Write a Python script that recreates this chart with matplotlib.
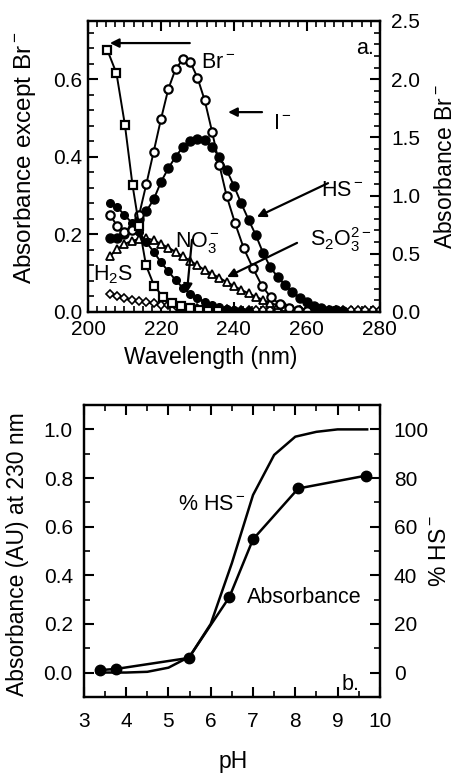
import matplotlib
matplotlib.use('Agg')
import matplotlib.pyplot as plt
from matplotlib.ticker import MultipleLocator, FormatStrFormatter

plt.rcParams.update({
    'font.family': ['Liberation Sans', 'DejaVu Sans'],
    'mathtext.fontset': 'custom',
    'mathtext.rm': 'Liberation Sans',
    'mathtext.it': 'Liberation Sans',
    'mathtext.default': 'regular',
    'axes.linewidth': 1.6,
})

# ---------------- Panel a data ----------------
br_x = [205.3, 207.8, 210.1, 212.2, 214.0, 215.9, 218.2, 220.6, 223.0, 225.5, 228.0, 230.5, 233.0, 235.5]
br_y = [2.25, 2.05, 1.61, 1.09, 0.74, 0.40, 0.22, 0.13, 0.08, 0.05, 0.03, 0.02, 0.01, 0.005]

i_x = [206, 208, 210, 212, 214, 216, 218, 220, 222, 224, 226, 228, 230, 232, 234, 236, 238,
       240.3, 242.7, 245.2, 247.7, 250.1, 252.6, 255, 257.5, 260]
i_y = [0.25, 0.222, 0.205, 0.21, 0.25, 0.33, 0.413, 0.497, 0.574, 0.626, 0.651, 0.645, 0.604,
       0.545, 0.465, 0.379, 0.299, 0.229, 0.164, 0.113, 0.067, 0.038, 0.02, 0.01, 0.005, 0.002]

hs_x = [206, 208, 210, 212, 214, 216, 218, 220, 222, 224, 226, 228, 230, 232, 234, 236, 238,
        240, 242, 244, 246, 248, 250, 252, 254, 256, 258, 260, 262, 264, 266, 268, 270]
hs_y = [0.19, 0.19, 0.20, 0.215, 0.24, 0.26, 0.29, 0.335, 0.37, 0.40, 0.425, 0.44, 0.445, 0.442,
        0.425, 0.40, 0.366, 0.325, 0.28, 0.238, 0.198, 0.152, 0.115, 0.09, 0.07, 0.052, 0.037,
        0.025, 0.016, 0.010, 0.006, 0.004, 0.002]

no3_x = [206, 208, 210, 212, 214, 216, 218, 220, 222, 224, 226, 228, 230, 232, 234, 236, 238,
         240, 242, 244]
no3_y = [0.282, 0.27, 0.25, 0.23, 0.205, 0.18, 0.155, 0.128, 0.105, 0.082, 0.062, 0.047, 0.035,
         0.026, 0.018, 0.012, 0.008, 0.005, 0.003, 0.002]

s2o3_x = [206, 208, 210, 212, 214, 216, 218, 220, 222, 224, 226, 228, 230, 232, 234, 236, 238,
          240, 242, 244, 246, 248, 250, 252, 254, 256, 258, 260, 262]
s2o3_y = [0.144, 0.162, 0.175, 0.183, 0.188, 0.19, 0.185, 0.175, 0.166, 0.155, 0.143, 0.132,
          0.12, 0.108, 0.098, 0.088, 0.077, 0.067, 0.057, 0.048, 0.039, 0.031, 0.023, 0.017,
          0.012, 0.008, 0.005, 0.003, 0.002]

h2s_x = [206, 208, 210, 212, 214, 216, 218, 220, 222, 224, 226, 228, 230, 232, 234, 236, 238,
         240, 242, 244, 246, 248, 250, 252, 254, 256, 258, 260, 262, 264, 266, 268, 270, 272,
         274, 276, 278, 280]
h2s_y = [0.045, 0.04, 0.035, 0.031, 0.028, 0.025, 0.022, 0.019, 0.017, 0.015, 0.013, 0.011,
         0.010, 0.009, 0.008, 0.007, 0.007, 0.006, 0.006, 0.006, 0.006, 0.006, 0.006, 0.005,
         0.005, 0.005, 0.005, 0.005, 0.005, 0.005, 0.005, 0.005, 0.005, 0.005, 0.005, 0.005,
         0.005, 0.005]

# ---------------- Panel b data ----------------
ph_abs = [3.38, 3.77, 5.48, 6.44, 7.0, 8.07, 9.68]
abs_230 = [0.01, 0.015, 0.06, 0.31, 0.548, 0.757, 0.81]

ph_hs = [3.3, 4.0, 4.5, 5.0, 5.5, 6.0, 6.5, 7.0, 7.5, 8.0, 8.5, 9.0, 9.7]
pct_hs = [0.0, 0.0, 0.3, 2.0, 6.5, 20.0, 45.0, 73.0, 89.5, 97.0, 99.0, 100.0, 100.0]

fig = plt.figure(figsize=(4.56, 7.76), dpi=100)

TICK_FS = 15
LAB_FS = 16.5

def style_ticks(a):
    a.tick_params(which='major', direction='in', length=7, width=1.5, labelsize=TICK_FS)
    a.tick_params(which='minor', direction='in', length=4, width=1.2)

# ---------- Panel a ----------
ax = fig.add_axes([0.193, 0.598, 0.640, 0.375])
ax2 = ax.twinx()

lw = 1.4
ax.plot(h2s_x, h2s_y, '-', color='k', lw=lw, marker='D', ms=4.5, mfc='white', mec='k', mew=1.2)
ax.plot(s2o3_x, s2o3_y, '-', color='k', lw=lw, marker='^', ms=5.5, mfc='white', mec='k', mew=1.3)
ax.plot(no3_x, no3_y, '-', color='k', lw=lw, marker='o', ms=5.5, mfc='k', mec='k')
ax.plot(hs_x, hs_y, '-', color='k', lw=lw, marker='o', ms=6.5, mfc='k', mec='k')
ax.plot(i_x, i_y, '-', color='k', lw=lw, marker='o', ms=6, mfc='white', mec='k', mew=1.6)
ax2.plot(br_x, br_y, '-', color='k', lw=lw, marker='s', ms=6, mfc='white', mec='k', mew=1.6)

ax.set_xlim(200, 280)
ax.set_ylim(0, 0.75)
ax2.set_ylim(0, 2.5)
ax.xaxis.set_major_locator(MultipleLocator(20))
ax.xaxis.set_minor_locator(MultipleLocator(2.5))
ax.yaxis.set_major_locator(MultipleLocator(0.2))
ax.yaxis.set_minor_locator(MultipleLocator(0.04))
ax.yaxis.set_major_formatter(FormatStrFormatter('%.1f'))
ax2.yaxis.set_major_locator(MultipleLocator(0.5))
ax2.yaxis.set_minor_locator(MultipleLocator(0.1))
ax2.yaxis.set_major_formatter(FormatStrFormatter('%.1f'))
style_ticks(ax)
style_ticks(ax2)
ax.tick_params(which='both', top=True)
ax.tick_params(axis='x', which='major', pad=6)
ax.tick_params(axis='y', which='major', pad=4)
ax2.tick_params(axis='y', which='major', pad=8)

ax.text(-0.215, 0.53, r'Absorbance except Br$^-$', transform=ax.transAxes, rotation=90,
        ha='center', va='center', fontsize=17.5)
ax.text(1.225, 0.50, r'Absorbance Br$^-$', transform=ax.transAxes, rotation=90,
        ha='center', va='center', fontsize=LAB_FS)
ax.text(0.42, -0.155, 'Wavelength (nm)', transform=ax.transAxes,
        ha='center', va='center', fontsize=LAB_FS)

TXT_FS = 15.5
ax.text(235.6, 0.644, r'Br$^-$', ha='center', va='center', fontsize=TXT_FS)
ax.text(253.2, 0.485, r'I$^-$', ha='center', va='center', fontsize=TXT_FS)
ax.text(269.6, 0.314, r'HS$^-$', ha='center', va='center', fontsize=TXT_FS)
ax.text(260.8, 0.186, r'S$_2$O$_3^{2-}$', ha='left', va='center', fontsize=TXT_FS)
ax.text(223.8, 0.18, r'NO$_3^-$', ha='left', va='center', fontsize=TXT_FS)
ax.text(201.4, 0.095, r'H$_2$S', ha='left', va='center', fontsize=TXT_FS)
ax.text(276.0, 0.68, 'a.', ha='center', va='center', fontsize=TXT_FS)

arrow_kw = dict(arrowstyle='-|>', color='k', lw=1.6, mutation_scale=13, shrinkA=0, shrinkB=0)
for (x0, y0, x1, y1) in [(227.9, 0.693, 206.0, 0.693),
                         (247.7, 0.515, 238.4, 0.515),
                         (265.8, 0.332, 246.3, 0.245),
                         (257.3, 0.178, 238.1, 0.09),
                         (228.5, 0.186, 227.1, 0.049)]:
    ax.annotate('', xy=(x1, y1), xytext=(x0, y0), arrowprops=arrow_kw)

# ---------- Panel b ----------
bx = fig.add_axes([0.184, 0.102, 0.649, 0.376])
bx2 = bx.twinx()
bx.plot(ph_abs, abs_230, '-', color='k', lw=1.8, marker='o', ms=7.5, mfc='k', mec='k')
bx2.plot(ph_hs, pct_hs, '-', color='k', lw=1.8)

bx.set_xlim(3, 10)
bx.set_ylim(-0.1, 1.1)
bx2.set_ylim(-10, 110)
bx.xaxis.set_major_locator(MultipleLocator(1))
bx.xaxis.set_minor_locator(MultipleLocator(0.5))
bx.yaxis.set_major_locator(MultipleLocator(0.2))
bx.yaxis.set_minor_locator(MultipleLocator(0.1))
bx.yaxis.set_major_formatter(FormatStrFormatter('%.1f'))
bx2.yaxis.set_major_locator(MultipleLocator(20))
bx2.yaxis.set_minor_locator(MultipleLocator(10))
style_ticks(bx)
style_ticks(bx2)
bx.tick_params(which='both', top=True)
bx.tick_params(axis='x', which='major', pad=11)
bx.tick_params(axis='y', which='major', pad=8)
bx2.tick_params(axis='y', which='major', pad=10)

bx.text(-0.226, 0.49, 'Absorbance (AU) at 230 nm', transform=bx.transAxes, rotation=90,
        ha='center', va='center', fontsize=LAB_FS)
bx.text(1.203, 0.50, r'% HS$^-$', transform=bx.transAxes, rotation=90,
        ha='center', va='center', fontsize=LAB_FS)
bx.text(0.503, -0.222, 'pH', transform=bx.transAxes, ha='center', va='center', fontsize=LAB_FS)

bx.text(5.22, 0.69, r'% HS$^-$', ha='left', va='center', fontsize=TXT_FS)
bx.text(6.85, 0.308, 'Absorbance', ha='left', va='center', fontsize=TXT_FS)
bx.text(9.1, -0.05, 'b.', ha='left', va='center', fontsize=TXT_FS)

fig.savefig('out.png', dpi=100)
